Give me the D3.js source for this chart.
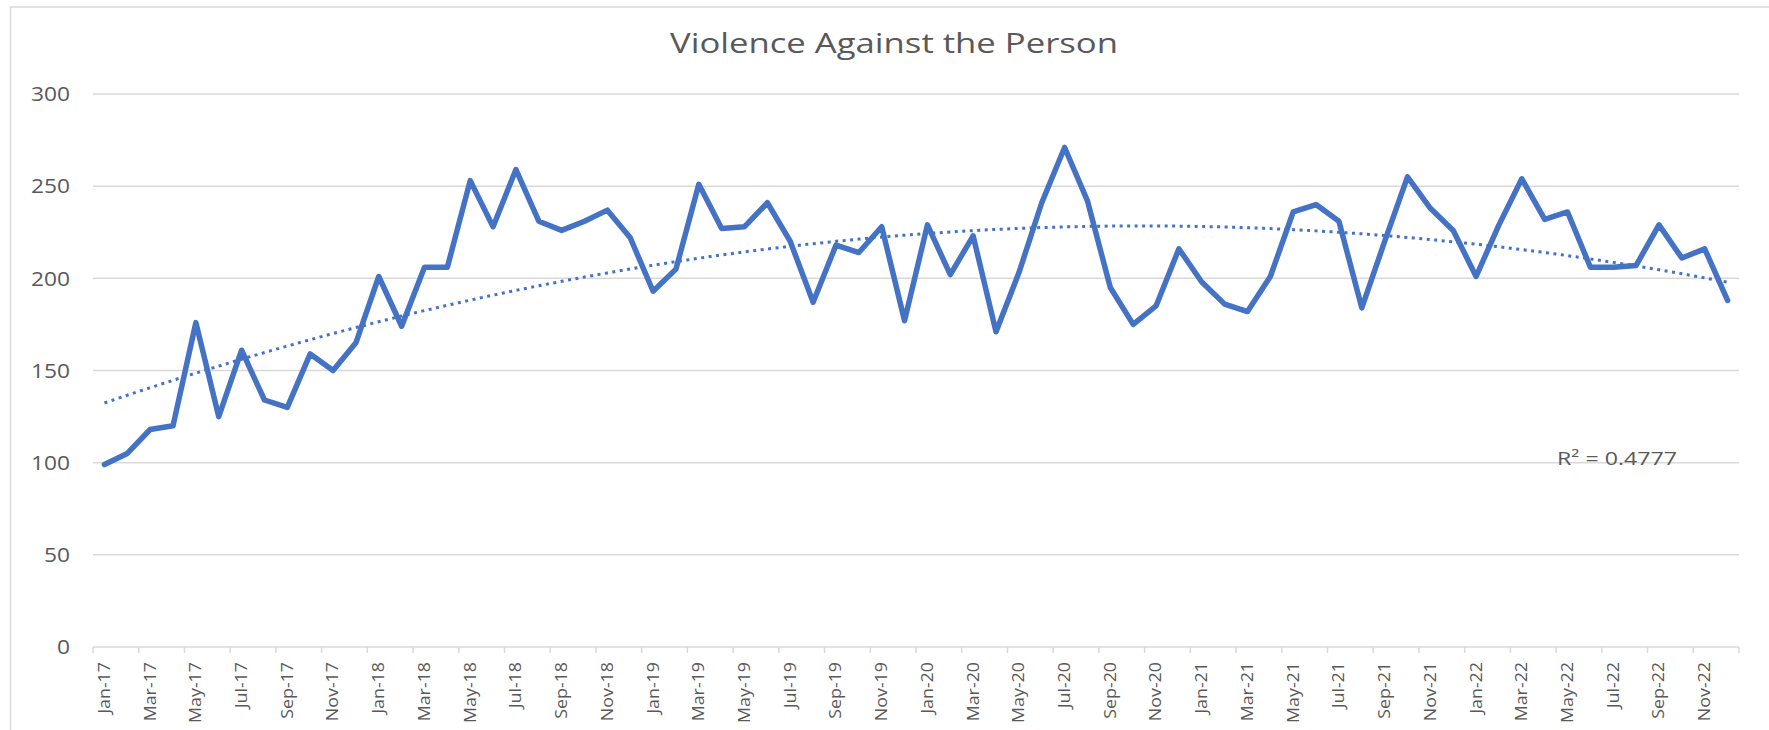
<!DOCTYPE html>
<html>
<head>
<meta charset="utf-8">
<script src="https://cdn.jsdelivr.net/npm/d3@7"></script>
<style>
  body { margin: 0; background: #fff; }
  text { font-family: "Open Sans", sans-serif; fill: #595959; }
</style>
</head>
<body>
<div id="chart"></div>
<script>
const monthNames = ["Jan", "Feb", "Mar", "Apr", "May", "Jun", "Jul", "Aug", "Sep", "Oct", "Nov", "Dec"];
const years = ["17", "18", "19", "20", "21", "22"];
const categories = years.flatMap(y => monthNames.map(m => m + "-" + y));

const values = [
  99, 105, 118, 120, 176, 125, 161, 134, 130, 159, 150, 165,
  201, 174, 206, 206, 253, 228, 259, 231, 226, 231, 237, 222,
  193, 205, 251, 227, 228, 241, 220, 187, 218, 214, 228, 177,
  229, 202, 223, 171, 203, 241, 271, 242, 195, 175, 185, 216,
  198, 186, 182, 201, 236, 240, 231, 184, 220, 255, 238, 226,
  201, 229, 254, 232, 236, 206, 206, 207, 229, 211, 216, 188
];

const yTicks = [0, 50, 100, 150, 200, 250, 300];
const title = "Violence Against the Person";
const r2Label = "R\u00B2 = 0.4777";

const w = 1769,
      h = 730;

const margin = {top: 94, right: 30, bottom: 83, left: 93};

const svg = d3.select("#chart")
  .append("svg")
  .attr("width", w)
  .attr("height", h);

// chart frame (only top and left edges are visible in the picture)
svg.append("path")
  .attr("d", "M10.5,730 L10.5,7 L1769,7")
  .attr("fill", "none")
  .attr("stroke", "#d9d9d9")
  .attr("stroke-width", 1.5);

const x = d3.scaleBand()
  .domain(categories)
  .range([margin.left, w - margin.right]);

const y = d3.scaleLinear()
  .domain([0, 300])
  .range([h - margin.bottom, margin.top]);

const cx = d => x(d) + x.bandwidth() / 2;

// gridlines
svg.append("g")
  .selectAll("line")
  .data(yTicks.filter(t => t > 0))
  .enter()
  .append("line")
  .attr("x1", margin.left)
  .attr("x2", w - margin.right)
  .attr("y1", d => y(d))
  .attr("y2", d => y(d))
  .attr("stroke", "#d9d9d9")
  .attr("stroke-width", 1.5);

// y labels
svg.append("g")
  .selectAll("text")
  .data(yTicks)
  .enter()
  .append("text")
  .attr("x", 70)
  .attr("y", d => y(d))
  .attr("dy", "0.36em")
  .attr("text-anchor", "end")
  .attr("font-size", 20)
  .attr("textLength", d => String(d).length * 13)
  .attr("lengthAdjust", "spacingAndGlyphs")
  .text(d => d);

// x axis: line, ticks every two months, labels every two months
const xAxisGroup = svg.append("g").attr("class", "x-axis");

xAxisGroup.append("line")
  .attr("x1", margin.left)
  .attr("x2", w - margin.right)
  .attr("y1", y(0))
  .attr("y2", y(0))
  .attr("stroke", "#d9d9d9")
  .attr("stroke-width", 1.5);

const tickCats = categories.filter((d, i) => i % 2 === 0);

xAxisGroup.selectAll(".tick")
  .data(tickCats.concat([null]))
  .enter()
  .append("line")
  .attr("class", "tick")
  .attr("x1", d => d === null ? w - margin.right : x(d))
  .attr("x2", d => d === null ? w - margin.right : x(d))
  .attr("y1", y(0))
  .attr("y2", y(0) + 6)
  .attr("stroke", "#d9d9d9")
  .attr("stroke-width", 1.5);

xAxisGroup.selectAll(".lbl")
  .data(tickCats)
  .enter()
  .append("text")
  .attr("class", "lbl")
  .attr("transform", d => "translate(" + cx(d) + "," + (y(0) + 15) + ") rotate(-90) scale(1.15,1)")
  .attr("text-anchor", "end")
  .attr("dy", "0.35em")
  .attr("font-size", 15.5)
  .text(d => d);

// main series
const line = d3.line()
  .x((d, i) => cx(categories[i]))
  .y(d => y(d));

svg.append("path")
  .datum(values)
  .attr("fill", "none")
  .attr("stroke", "#4472c4")
  .attr("stroke-width", 5.5)
  .attr("stroke-linejoin", "round")
  .attr("stroke-linecap", "round")
  .attr("d", line);

// polynomial (order 2) trendline, least squares on x = 1..n
function quadFit(ys) {
  let s = [0, 0, 0, 0, 0], t = [0, 0, 0];
  ys.forEach((v, i) => {
    const xi = i + 1;
    for (let k = 0; k < 5; k++) s[k] += Math.pow(xi, k);
    for (let k = 0; k < 3; k++) t[k] += v * Math.pow(xi, k);
  });
  const m = [[s[0], s[1], s[2], t[0]], [s[1], s[2], s[3], t[1]], [s[2], s[3], s[4], t[2]]];
  for (let c = 0; c < 3; c++) {
    for (let r = c + 1; r < 3; r++) {
      const f = m[r][c] / m[c][c];
      for (let k = c; k < 4; k++) m[r][k] -= f * m[c][k];
    }
  }
  const coef = [0, 0, 0];
  for (let r = 2; r >= 0; r--) {
    let acc = m[r][3];
    for (let k = r + 1; k < 3; k++) acc -= m[r][k] * coef[k];
    coef[r] = acc / m[r][r];
  }
  return coef;
}

const coef = quadFit(values);
const trend = d3.range(0, values.length - 1 + 0.001, 0.25).map(i => {
  const xi = i + 1;
  return {i: i, v: coef[0] + coef[1] * xi + coef[2] * xi * xi};
});

const xi = d3.scaleLinear()
  .domain([0, values.length - 1])
  .range([cx(categories[0]), cx(categories[categories.length - 1])]);

svg.append("path")
  .datum(trend)
  .attr("fill", "none")
  .attr("stroke", "#4472c4")
  .attr("stroke-width", 3)
  .attr("stroke-dasharray", "3 4.5")
  .attr("d", d3.line().x(d => xi(d.i)).y(d => y(d.v)));

// R squared label
svg.append("text")
  .attr("x", 1557)
  .attr("y", 465)
  .attr("font-size", 18)
  .attr("textLength", 120)
  .attr("lengthAdjust", "spacingAndGlyphs")
  .text(r2Label);

// title
svg.append("text")
  .attr("x", 894)
  .attr("y", 52.5)
  .attr("text-anchor", "middle")
  .attr("font-size", 28)
  .attr("textLength", 448)
  .attr("lengthAdjust", "spacingAndGlyphs")
  .text(title);
</script>
</body>
</html>
